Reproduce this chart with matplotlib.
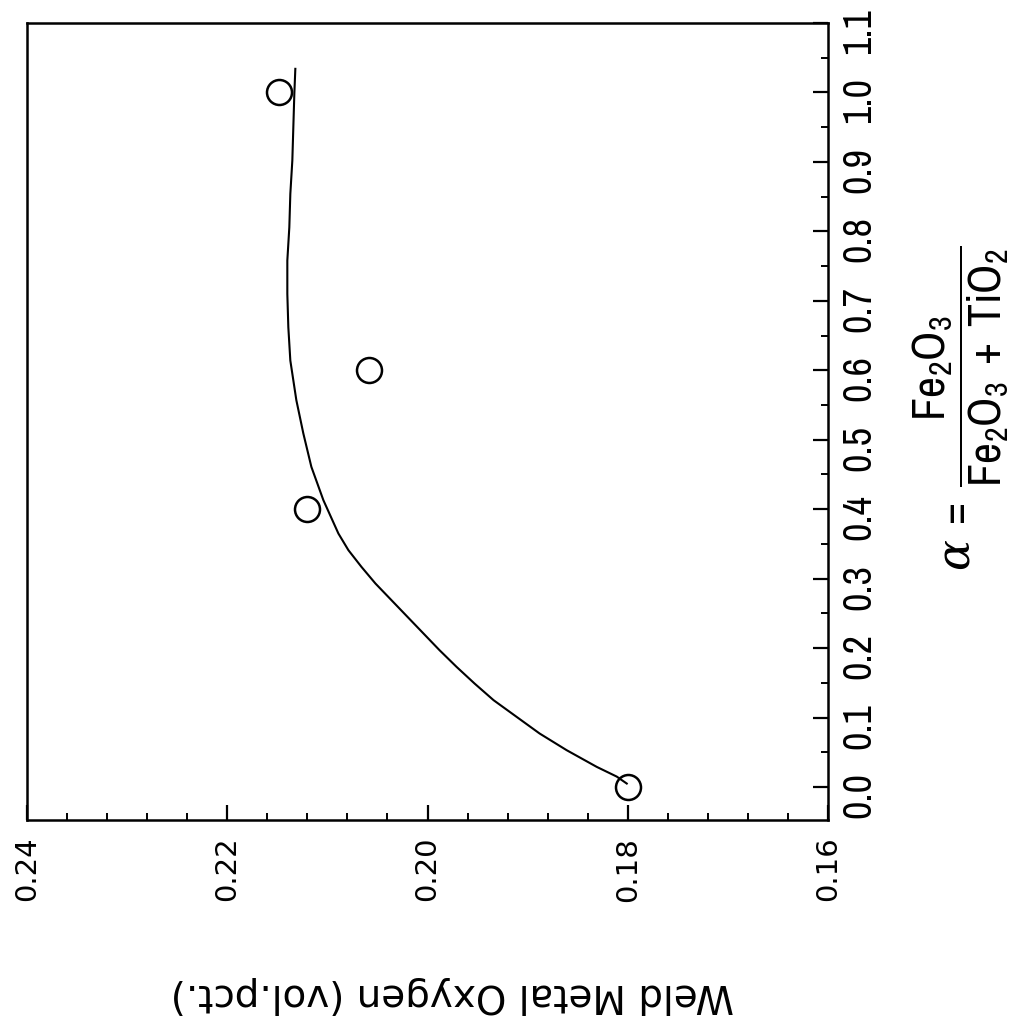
import matplotlib
matplotlib.use("Agg")
import matplotlib.pyplot as plt
from matplotlib.ticker import MultipleLocator, FixedLocator

# Data (alpha = Fe2O3/(Fe2O3+TiO2), weld metal oxygen vol.pct.)
alpha_pts = [0.0, 0.4, 0.6, 1.0]
oxygen_pts = [0.180, 0.212, 0.2058, 0.2148]

# Fitted curve
curve_alpha = [0.005, 0.015, 0.029, 0.053, 0.077, 0.101, 0.125, 0.149, 0.173,
               0.197, 0.221, 0.245, 0.269, 0.293, 0.317, 0.341, 0.365, 0.413,
               0.461, 0.509, 0.557, 0.614, 0.662, 0.710, 0.758, 0.806, 0.854,
               0.902, 0.950, 0.998, 1.034]
curve_oxygen = [0.1801, 0.1811, 0.1831, 0.1861, 0.1888, 0.1911, 0.1934, 0.1953,
                0.1971, 0.1988, 0.2004, 0.2020, 0.2036, 0.2052, 0.2066, 0.2079,
                0.2089, 0.2104, 0.2116, 0.2124, 0.2131, 0.2137, 0.2139, 0.2140,
                0.2140, 0.2138, 0.2137, 0.2135, 0.2134, 0.2133, 0.2132]

oxy_ticks = [0.16, 0.18, 0.20, 0.22, 0.24]
oxy_labels = ["0.16", "0.18", "0.20", "0.22", "0.24"]
alpha_ticks = [0.0, 0.1, 0.2, 0.3, 0.4, 0.5, 0.6, 0.7, 0.8, 0.9, 1.0, 1.1]
alpha_labels = ["0.0", "0.1", "0.2", "0.3", "0.4", "0.5", "0.6", "0.7", "0.8", "0.9", "1.0", "1.1"]

narrow = 'Archivo Narrow'
plt.rcParams['mathtext.fontset'] = 'custom'
plt.rcParams['mathtext.rm'] = narrow
plt.rcParams['mathtext.it'] = 'DejaVu Serif:italic'

fig = plt.figure(figsize=(10.12, 10.36), dpi=100)
W, H = 1012, 1036
L, R, T, B = 27, 828, 23, 820
ax = fig.add_axes([L / W, 1 - B / H, (R - L) / W, (B - T) / H])

# rotated layout: oxygen horizontal (reversed), alpha vertical
ax.plot(curve_oxygen, curve_alpha, color='black', lw=1.5)
ax.plot(oxygen_pts, alpha_pts, linestyle='none', marker='o', ms=18,
        mfc='none', mec='black', mew=1.8)

ax.set_xlim(0.24, 0.16)
ax.set_ylim(-0.0475, 1.1)

for s in ax.spines.values():
    s.set_linewidth(1.8)

ax.xaxis.set_major_locator(FixedLocator(oxy_ticks))
ax.set_xticklabels(oxy_labels)
ax.xaxis.set_minor_locator(MultipleLocator(0.004))
ax.yaxis.tick_right()
ax.yaxis.set_major_locator(FixedLocator(alpha_ticks))
ax.set_yticklabels(alpha_labels)
ax.yaxis.set_minor_locator(MultipleLocator(0.05))

ax.tick_params(axis='x', which='major', direction='in', length=11, width=1.6,
               labelrotation=90, labelsize=21, pad=12, labelfontfamily='DejaVu Sans')
ax.tick_params(axis='x', which='minor', direction='in', length=5, width=1.4)
ax.tick_params(axis='y', which='major', direction='in', length=11, width=1.6,
               labelrotation=90, labelsize=29, pad=9, labelfontfamily=narrow)
ax.tick_params(axis='y', which='minor', direction='in', length=5, width=1.4)

fig.text(452 / W, 1 - 995 / H, "Weld Metal Oxygen (vol.pct.)", rotation=180,
         ha='center', va='center', fontsize=28, family='DejaVu Sans')

fig.text(960 / W, 1 - 408 / H,
         r'$\alpha\,=\,\dfrac{\mathrm{Fe_2O_3}}{\mathrm{Fe_2O_3\,+\,TiO_2}}$',
         rotation=90, ha='center', va='center', fontsize=33)

fig.savefig("out.png", dpi=100)
